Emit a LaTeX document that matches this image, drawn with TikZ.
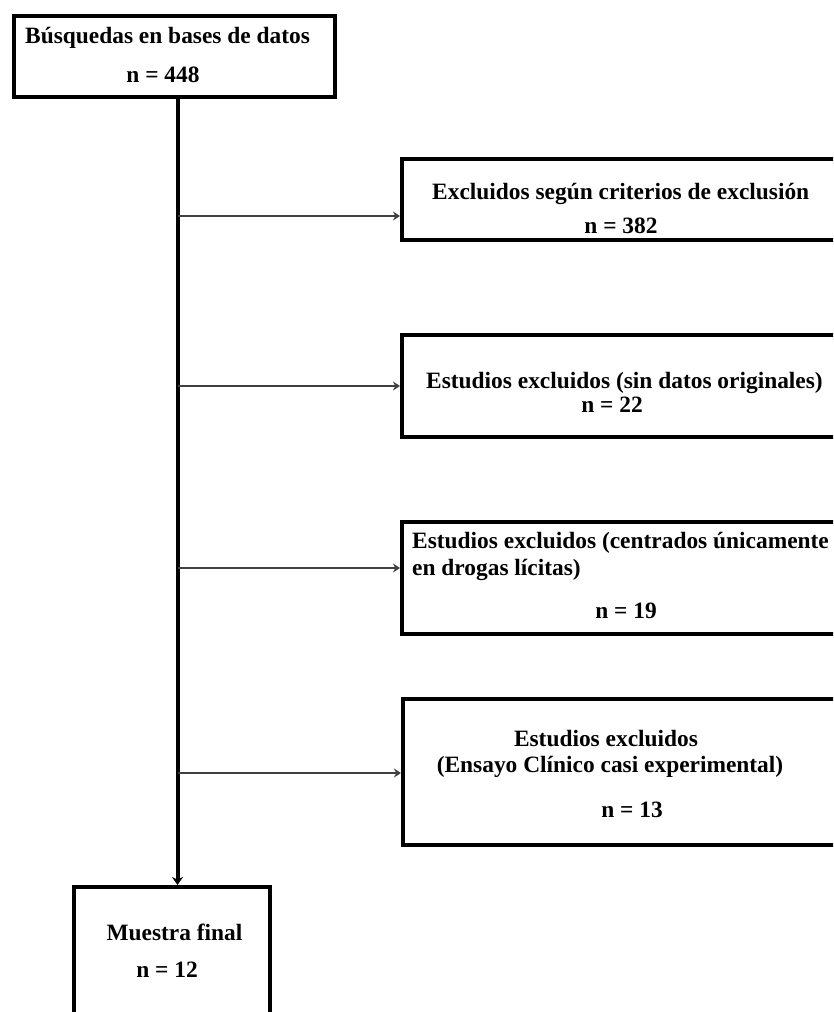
\documentclass[tikz,border=0pt]{standalone}
\usepackage{fontspec}
\setmainfont{Liberation Serif}
\usetikzlibrary{arrows.meta}
\tikzset{
  box/.style={draw, line width=4pt, anchor=north west, inner sep=0pt},
  txt/.style={inner sep=0pt, font=\fontsize{23.4}{28}\selectfont\bfseries},
  flow/.style={line width=1.6pt, black!75, -{Stealth[length=7pt,width=9pt]}},
  trunk/.style={line width=4pt, -{Stealth[length=8pt,width=11pt]}}
}
\begin{document}
\begin{tikzpicture}[x=1pt,y=-1pt]
\useasboundingbox (0,0) rectangle (833,1012);
\clip (0,0) rectangle (833,1012);
% cajas
\node[box, minimum width=321pt, minimum height=81pt] (busq) at (12,14) {};
\node[box, minimum width=496pt, minimum height=81pt] (exc1) at (400,157) {};
\node[box, minimum width=496pt, minimum height=102pt] (exc2) at (400,333) {};
\node[box, minimum width=496pt, minimum height=112pt] (exc3) at (400,520) {};
\node[box, minimum width=496pt, minimum height=146pt] (exc4) at (401,697) {};
\node[box, minimum width=196pt, minimum height=200pt] (fin) at (72,885) {};
% textos
\node[txt, anchor=base west] (busq1) at (25,43) {Búsquedas en bases de datos};
\node[txt, anchor=base] (busq2) at (163,82) {n = 448};
\node[txt, anchor=base west] (exc1a) at (432,199) {Excluidos según criterios de exclusión};
\node[txt, anchor=base] (exc1b) at (621,233) {n = 382};
\node[txt, anchor=base west] (exc2a) at (426,388) {Estudios excluidos (sin datos originales)};
\node[txt, anchor=base] (exc2b) at (612,412) {n = 22};
\node[txt, anchor=base west] (exc3a) at (412,548) {Estudios excluidos (centrados únicamente};
\node[txt, anchor=base west] (exc3b) at (412,575) {en drogas lícitas)};
\node[txt, anchor=base] (exc3c) at (626,618) {n = 19};
\node[txt, anchor=base] (exc4a) at (606,746) {Estudios excluidos};
\node[txt, anchor=base] (exc4b) at (610,772) {(Ensayo Clínico casi experimental)};
\node[txt, anchor=base] (exc4c) at (632,817) {n = 13};
\node[txt, anchor=base] (fin1) at (174.5,940) {Muestra final};
\node[txt, anchor=base] (fin2) at (167,977) {n = 12};
% conectores
\coordinate (tr) at (177.5,0);
\draw[trunk] (busq.south -| tr) -- (fin.north -| tr);
\coordinate (a1) at (177.5,216);
\coordinate (a2) at (177.5,386);
\coordinate (a3) at (177.5,568);
\coordinate (a4) at (177.5,773);
\draw[flow] (a1) -- (a1 -| exc1.west);
\draw[flow] (a2) -- (a2 -| exc2.west);
\draw[flow] (a3) -- (a3 -| exc3.west);
\draw[flow] (a4) -- (a4 -| exc4.west);
\end{tikzpicture}
\end{document}
